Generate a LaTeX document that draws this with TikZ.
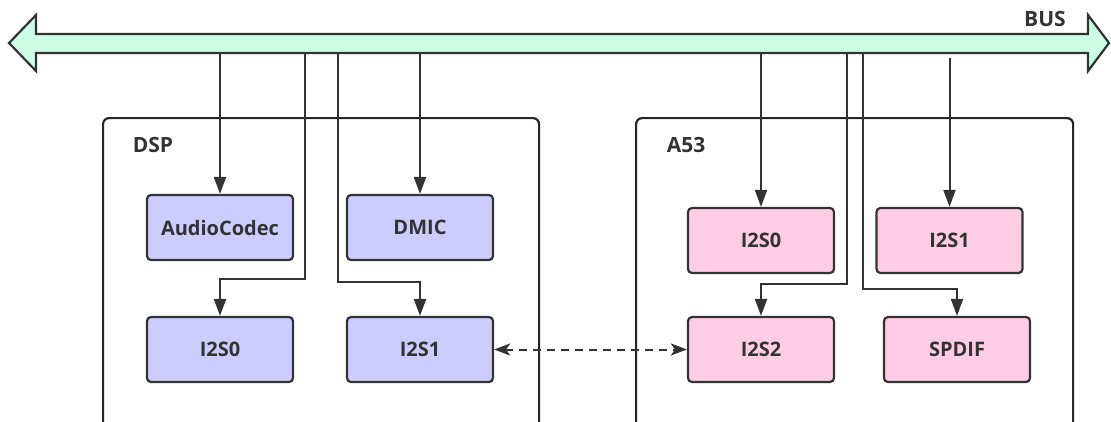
\documentclass[tikz,border=0pt]{standalone}
\usepackage{fontspec}
\setmainfont{Open Sans}
\usetikzlibrary{arrows.meta}
\definecolor{ln}{HTML}{333333}
\definecolor{dspfill}{HTML}{CCCCFF}
\definecolor{a53fill}{HTML}{FFCCE6}
\definecolor{busfill}{HTML}{CCFFE6}
\begin{document}
\begin{tikzpicture}[x=1pt,y=-1pt,
  blk/.style={draw=ln, line width=2.2pt, rounded corners=4pt, minimum width=146pt, minimum height=65pt,
    font=\bfseries\fontsize{20}{24}\selectfont, text=ln, inner sep=0pt},
  dspbox/.style={blk, fill=dspfill},
  a53box/.style={blk, fill=a53fill},
  container/.style={draw=black!85, line width=2.2pt, rounded corners=6pt, minimum width=436pt, minimum height=340pt, anchor=north west, inner sep=0pt},
  lbl/.style={font=\bfseries\fontsize{21}{24}\selectfont, text=ln, inner sep=0pt},
  conn/.style={draw=ln, line width=2pt, -{Triangle[length=17pt,width=12pt]}},
  link/.style={draw=ln, line width=2pt, dash pattern=on 8pt off 6pt, {Stealth[length=16pt,width=12pt,inset=4pt]}-{Stealth[length=16pt,width=12pt,inset=4pt]}},
  busarrow/.style={draw=ln, line width=2.2pt, fill=busfill, line join=miter}
]
\useasboundingbox (0,0) rectangle (1111,421);
\clip (0,0) rectangle (1111,421);

% bus
\draw[busarrow] (9,43) -- (36,15) -- (36,34) -- (1088,34) -- (1088,15) -- (1109,43) -- (1088,71) -- (1088,53) -- (36,53) -- (36,71) -- cycle;
\node[lbl] (buslbl) at (1045,19) {BUS};
\coordinate (busbot) at (0,53);

% containers
\node[container] (dsp) at (102,117) {};
\node[container, minimum width=437pt] (a53) at (635,117) {};
\node[lbl] (dsplbl) at (153,145) {DSP};
\node[lbl] (a53lbl) at (686,145) {A53};

% DSP blocks
\node[dspbox] (codec) at (220,227.5) {AudioCodec};
\node[dspbox] (dmic) at (420,227.5) {DMIC};
\node[dspbox] (dspi2s0) at (220,349.5) {I2S0};
\node[dspbox] (dspi2s1) at (420,349.5) {I2S1};

% A53 blocks
\node[a53box] (ai2s0) at (761,240.5) {I2S0};
\node[a53box] (ai2s1) at (949.5,240.5) {I2S1};
\node[a53box] (ai2s2) at (761,349.5) {I2S2};
\node[a53box] (spdif) at (957,349.5) {SPDIF};

% bus taps
\coordinate (t1) at (305,53);
\coordinate (t2) at (338,53);
\coordinate (t3) at (847,53);
\coordinate (t4) at (863,53);
\coordinate (t5) at (949.5,58);

\draw[conn] (codec.north |- busbot) -- (codec.north);
\draw[conn] (dmic.north |- busbot) -- (dmic.north);
\draw[conn] (t1) -- (305,279) -| (dspi2s0.north);
\draw[conn] (t2) -- (338,282) -| (dspi2s1.north);

\draw[conn] (ai2s0.north |- busbot) -- (ai2s0.north);
\draw[conn] (t5) -- (ai2s1.north);
\draw[conn] (t3) -- (847,284) -| (ai2s2.north);
\draw[conn] (t4) -- (863,289) -| (spdif.north);

\draw[link] (dspi2s1.east) -- (ai2s2.west);
\end{tikzpicture}
\end{document}
